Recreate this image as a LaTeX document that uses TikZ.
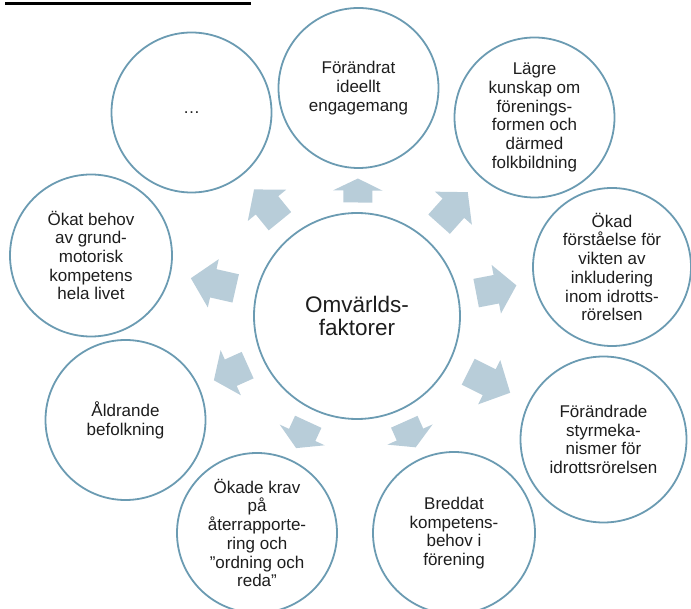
\documentclass[tikz,border=0pt]{standalone}
\usepackage{fontspec}
\setmainfont{Liberation Sans}
\usetikzlibrary{calc}
\definecolor{ringblue}{RGB}{107,155,178}
\definecolor{arrowfill}{RGB}{184,205,217}
\definecolor{textgray}{RGB}{30,30,30}

\tikzset{
    factor/.style={circle, draw=ringblue, line width=1.8pt, fill=white,
        align=center, text=textgray, inner sep=0pt,
        font=\fontsize{17}{18.7}\selectfont},
}

\newcommand{\gaparrow}[3]{
    % block arrow in the middle of the gap between #1 and #2, length #3
    \path (#1) -- (#2) coordinate[pos=0.5] (#2-mid);
    \pgfmathsetmacro{\headlen}{0.5*min(#3,50)}
    \fill[arrowfill] let \p1 = ($(#2)-(#1)$), \n1 = {atan2(\y1,\x1)} in
        [shift={(#2-mid)}, rotate=\n1]
        (-#3/2, -14.5) -- (#3/2-\headlen, -14.5) -- (#3/2-\headlen, -24.75)
        -- (#3/2, 0) -- (#3/2-\headlen, 24.75) -- (#3/2-\headlen, 14.5)
        -- (-#3/2, 14.5) -- cycle;
}

\begin{document}
\begin{tikzpicture}[x=1pt, y=-1pt]
    \useasboundingbox (0,0) rectangle (691,609);

    % line at the top
    \draw[line width=2.7pt] (5,3.3) -- (251,3.3);

    % centre circle
    \node[factor, minimum size=206pt, font=\fontsize{22.5}{23.5}\selectfont]
        (centre) at (357,316) {Omvärlds-\\faktorer};

    % outer circles
    \node[factor, minimum size=160pt] (dots) at (191.5,112.5) {…};
    \node[factor, minimum size=160pt] (ideal) at (358.5,88) {Förändrat\\ideellt\\engagemang};
    \node[factor, minimum size=160pt] (kunskap) at (534.5,117.5)
        {Lägre\\kunskap om\\förenings-\\formen och\\därmed\\folkbildning};
    \node[factor, minimum size=158pt] (inkl) at (612,267)
        {Ökad\\förståelse för\\vikten av\\inkludering\\inom idrotts-\\rörelsen};
    \node[factor, minimum size=166pt] (styr) at (603.5,439.5)
        {Förändrade\\styrmeka-\\nismer för\\idrottsrörelsen};
    \node[factor, minimum size=162pt] (kompetens) at (454,533)
        {Breddat\\kompetens-\\behov i\\förening};
    \node[factor, minimum size=160pt] (krav) at (257,533)
        {Ökade krav\\på\\återrapporte-\\ring och\\”ordning och\\reda”};
    \node[factor, minimum size=160pt] (aldrande) at (125.5,420) {Åldrande\\befolkning};
    \node[factor, minimum size=162pt] (motorik) at (91,255.5)
        {Ökat behov\\av grund-\\motorisk\\kompetens\\hela livet};

    % arrows from the centre
    \foreach \target/\len in {dots/41, ideal/24, kunskap/43, inkl/41, styr/47,
            kompetens/28, krav/29, aldrande/37, motorik/46}
        \gaparrow{centre}{\target}{\len};
\end{tikzpicture}
\end{document}
